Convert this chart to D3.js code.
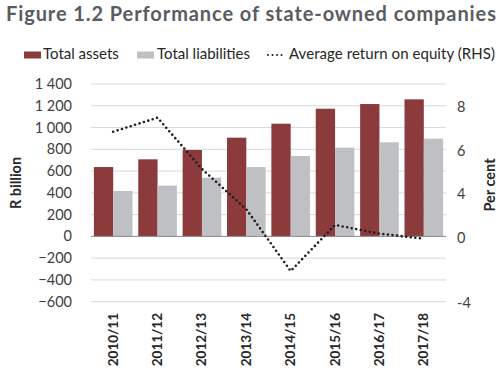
<!DOCTYPE html>
<html>
<head>
<meta charset="utf-8">
<script src="https://cdn.jsdelivr.net/npm/d3@7"></script>
<style>
  body { margin: 0; background: #fff; }
  text { font-family: Lato, "Open Sans", sans-serif; }
</style>
</head>
<body>
<svg id="chart" width="502" height="384"></svg>
<script>
// data
const years = ["2010/11", "2011/12", "2012/13", "2013/14", "2014/15", "2015/16", "2016/17", "2017/18"];
const totalAssets = [637, 708, 794, 907, 1035, 1173, 1216, 1259];
const totalLiabilities = [417, 466, 539, 637, 739, 815, 864, 898];
const avgReturn = [6.41, 7.27, 4.13, 1.66, -2.12, 0.70, 0.17, -0.14];
const leftTicks = [-600, -400, -200, 0, 200, 400, 600, 800, 1000, 1200, 1400];
// right-hand labels as printed (they sit on every other gridline)
const rightLabels = ["8", "6", "4", "0", "-4"];
const rightLabelAt = [1200, 800, 400, 0, -600];

const svg = d3.select("#chart");
const plotLeft = 91, plotRight = 446, plotTop = 84, plotBottom = 301.7;

const x = d3.scaleBand().domain(years).range([plotLeft, plotRight])
    .paddingInner(0.13).paddingOuter(0.065);
const x1 = d3.scaleBand().domain(["a", "l"]).range([0, x.bandwidth()]);
const y = d3.scaleLinear().domain([-600, 1400]).range([plotBottom, plotTop]);
const y2 = d3.scaleLinear().domain([-4, 8]).range([y(-600), y(1200)]);

const fmt = d3.formatLocale({ thousands: " ", grouping: [3], decimal: ".", currency: ["", ""] }).format(",");

// title
svg.append("text")
    .attr("x", 6).attr("y", 21)
    .attr("font-size", 20).attr("font-weight", "bold")
    .attr("fill", "#595c61")
    .attr("textLength", 490)
    .text("Figure 1.2  Performance of state-owned companies");

// gridlines
svg.append("g").selectAll("line")
    .data(leftTicks.filter(d => d !== 0))
    .enter().append("line")
    .attr("x1", plotLeft).attr("x2", plotRight)
    .attr("y1", d => y(d)).attr("y2", d => y(d))
    .attr("stroke", "#d9d9d9").attr("stroke-width", 1);

// left axis labels
svg.append("g").selectAll("text")
    .data(leftTicks)
    .enter().append("text")
    .attr("x", 72).attr("y", d => y(d) + 5)
    .attr("text-anchor", "end")
    .attr("font-size", 14.5).attr("fill", "#404040")
    .text(d => fmt(d));

// right axis labels
svg.append("g").selectAll("text")
    .data(rightLabels)
    .enter().append("text")
    .attr("x", 457).attr("y", (d, i) => y(rightLabelAt[i]) + 6.5)
    .attr("font-size", 14.5).attr("fill", "#404040")
    .text(d => d);

// axis titles
svg.append("text")
    .attr("transform", `translate(21,183) rotate(-90)`)
    .attr("text-anchor", "middle")
    .attr("font-size", 14.5).attr("font-weight", "bold").attr("fill", "#262626")
    .text("R billion");
svg.append("text")
    .attr("transform", `translate(495,185) rotate(-90)`)
    .attr("text-anchor", "middle")
    .attr("font-size", 14.5).attr("font-weight", "bold").attr("fill", "#262626")
    .text("Per cent");

// bars
const groups = svg.append("g").selectAll("g")
    .data(years)
    .enter().append("g")
    .attr("transform", d => `translate(${x(d)},0)`);

groups.append("rect")
    .attr("x", x1("a"))
    .attr("width", x1.bandwidth())
    .attr("y", (d, i) => y(totalAssets[i]))
    .attr("height", (d, i) => y(0) - y(totalAssets[i]))
    .attr("fill", "#8c3b3c");

groups.append("rect")
    .attr("x", x1("l"))
    .attr("width", x1.bandwidth())
    .attr("y", (d, i) => y(totalLiabilities[i]))
    .attr("height", (d, i) => y(0) - y(totalLiabilities[i]))
    .attr("fill", "#bfc0c3");

// zero line
svg.append("line")
    .attr("x1", plotLeft).attr("x2", plotRight)
    .attr("y1", y(0)).attr("y2", y(0))
    .attr("stroke", "#8a8a8a").attr("stroke-width", 1);

// return on equity, dotted
const line = d3.line()
    .x((d, i) => x(years[i]) + x.bandwidth() / 2)
    .y(d => y2(d));

svg.append("path")
    .datum(avgReturn)
    .attr("d", line)
    .attr("fill", "none")
    .attr("stroke", "#1f1f1f")
    .attr("stroke-width", 2.6)
    .attr("stroke-linecap", "round")
    .attr("stroke-dasharray", "0,4.6");

// x labels
svg.append("g").selectAll("text")
    .data(years)
    .enter().append("text")
    .attr("transform", d => `translate(${x(d) + x.bandwidth() / 2 + 4.5},313) rotate(-90)`)
    .attr("text-anchor", "end")
    .attr("font-size", 13.5).attr("font-weight", "bold").attr("fill", "#262626")
    .text(d => d);

// legend
const legend = svg.append("g");
legend.append("rect").attr("x", 24).attr("y", 51.5).attr("width", 17).attr("height", 7).attr("fill", "#8c3b3c");
legend.append("text").attr("x", 43).attr("y", 59).attr("font-size", 15).attr("fill", "#262626").text("Total assets");
legend.append("rect").attr("x", 137).attr("y", 51.5).attr("width", 17).attr("height", 7).attr("fill", "#bfc0c3");
legend.append("text").attr("x", 157).attr("y", 59).attr("font-size", 15).attr("fill", "#262626").text("Total liabilities");
legend.append("line").attr("x1", 268).attr("x2", 286).attr("y1", 55).attr("y2", 55)
    .attr("stroke", "#1f1f1f").attr("stroke-width", 2)
    .attr("stroke-linecap", "round").attr("stroke-dasharray", "0,4.5");
legend.append("text").attr("x", 289).attr("y", 59).attr("font-size", 15).attr("fill", "#262626")
    .attr("textLength", 206)
    .text("Average return on equity (RHS)");
</script>
</body>
</html>
